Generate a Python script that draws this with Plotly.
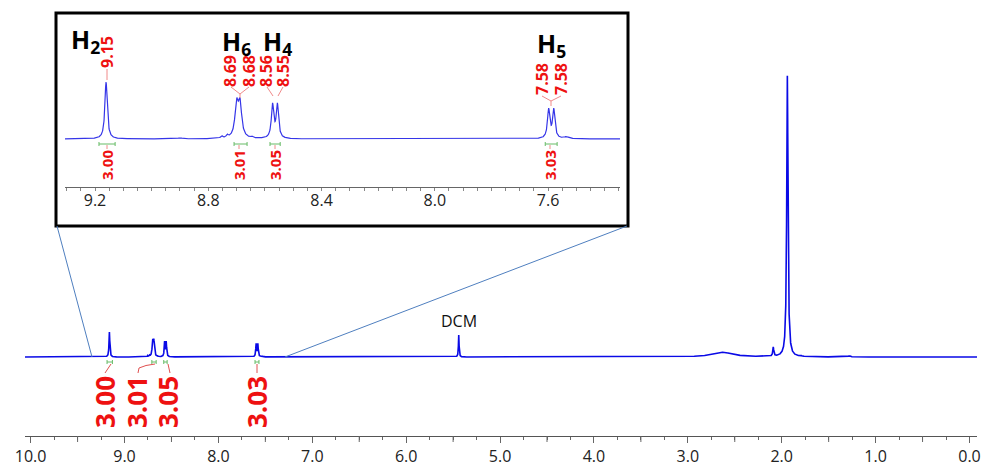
import numpy as np
import plotly.graph_objects as go

# ---------------- data ----------------
# peak list: chemical shift (ppm), height (1.94 ppm peak = 100), half width (ppm)
peak_ppm    = [9.161, 8.700, 8.688, 8.573, 8.556, 7.598, 7.580, 5.44, 2.63, 2.09, 1.94, 1.80, 1.28, 8.900, 8.753, 8.733, 8.645, 7.536, 8.10, 7.95]
peak_height = [8.9,   5.1,   5.1,   5.2,   5.2,   4.5,   4.5,   7.8,  1.7,  3.2,  100., 0.4,  0.4,  0.15,  0.4,   0.4,   0.2,   0.3,   0.1,  0.1]
peak_hwhm   = [0.005, 0.007, 0.007, 0.005, 0.005, 0.005, 0.005, 0.004, 0.13, 0.006, 0.008, 0.008, 0.01, 0.01, 0.004, 0.004, 0.004, 0.01, 0.02, 0.02]

inset_peak_labels = ["9.15", "8.69", "8.68", "8.56", "8.55", "7.58", "7.58"]
proton_labels = ["H<sub>2</sub>", "H<sub>6</sub>", "H<sub>4</sub>", "H<sub>5</sub>"]
integral_values = ["3.00", "3.01", "3.05", "3.03"]
integral_from = [9.186, 8.709, 8.582, 7.610]
integral_to   = [9.129, 8.663, 8.546, 7.568]
solvent_label = "DCM"
solvent_ppm = 5.44

main_tick_values = [10.0, 9.0, 8.0, 7.0, 6.0, 5.0, 4.0, 3.0, 2.0, 1.0, 0.0]
main_tick_labels = ["10.0", "9.0", "8.0", "7.0", "6.0", "5.0", "4.0", "3.0", "2.0", "1.0", "0.0"]
main_half_ticks = [9.5, 8.5, 7.5, 6.5, 5.5, 4.5, 3.5, 2.5, 1.5, 0.5]
inset_tick_values = [9.2, 8.8, 8.4, 8.0, 7.6]
inset_tick_labels = ["9.2", "8.8", "8.4", "8.0", "7.6"]

# ---------------- spectrum from the peak list ----------------
ppm = np.arange(10.06, -0.0801, -0.0005)
intensity = np.zeros_like(ppm)
for c, h, w in zip(peak_ppm, peak_height, peak_hwhm):
    intensity += h / (1.0 + ((ppm - c) / w) ** 2)
mask = (ppm <= 9.32) & (ppm >= 7.33)

W, H = 987, 470
def X(p):
    return p / W
def Y(p):
    return 1 - p / H

FONT = "Open Sans"
RED = "#ee1111"
PINK = "#f08a8a"
GREEN = "#66bb66"

fig = go.Figure()
fig.add_trace(go.Scatter(x=ppm, y=intensity, mode="lines",
                         line=dict(color="#0a0ae6", width=1.6),
                         xaxis="x", yaxis="y", hoverinfo="skip", showlegend=False))
fig.add_trace(go.Scatter(x=ppm[mask], y=intensity[mask], mode="lines",
                         line=dict(color="#3535e8", width=1.2),
                         xaxis="x2", yaxis="y2", hoverinfo="skip", showlegend=False))

shapes = []
annotations = []

# inset frame and zoom lines
shapes.append(dict(type="rect", xref="paper", yref="paper", x0=X(56), x1=X(628), y0=Y(226), y1=Y(13),
                   line=dict(color="black", width=3), layer="above"))
shapes.append(dict(type="line", xref="paper", yref="paper", x0=X(57), y0=Y(226), x1=X(92), y1=Y(357),
                   line=dict(color="#4f7fbf", width=1)))
shapes.append(dict(type="line", xref="paper", yref="paper", x0=X(627), y0=Y(226), x1=X(285), y1=Y(357),
                   line=dict(color="#4f7fbf", width=1)))

# longer half-unit ticks on the main axis
for v in main_half_ticks:
    shapes.append(dict(type="line", xref="x", yref="paper", x0=v, x1=v, y0=Y(436), y1=Y(442),
                       line=dict(color="#666", width=1)))

# integral brackets (main at y=362 px, inset at y=144 px)
for xr, ypx in (("x", 362), ("x2", 144)):
    for a, b in zip(integral_from, integral_to):
        shapes.append(dict(type="line", xref=xr, yref="paper", x0=a, x1=b, y0=Y(ypx), y1=Y(ypx),
                           line=dict(color=GREEN, width=1)))
        for e in (a, b):
            shapes.append(dict(type="line", xref=xr, yref="paper", x0=e, x1=e, y0=Y(ypx - 2), y1=Y(ypx + 2),
                               line=dict(color=GREEN, width=1)))

# main integral labels and connectors
main_int_px = [105, 137, 168, 257]
for txt, xp in zip(integral_values, main_int_px):
    annotations.append(dict(x=X(xp), y=Y(402), xref="paper", yref="paper", text=txt, showarrow=False,
                            textangle=-90, xanchor="center", yanchor="middle",
                            font=dict(family=FONT, size=26, color=RED, weight="bold")))
main_conn = [
    "M {} {} L {} {}".format(X(111), Y(364), X(105), Y(373)),
    "M {} {} Q {} {} {} {} L {} {}".format(X(155), Y(364), X(145), Y(365), X(139), Y(368), X(138), Y(373)),
    "M {} {} L {} {}".format(X(168), Y(364), X(170), Y(373)),
    "M {} {} L {} {}".format(X(257), Y(364), X(257), Y(373)),
]
for p in main_conn:
    shapes.append(dict(type="path", xref="paper", yref="paper", path=p, line=dict(color="#e05050", width=1)))

# inset integral labels and connectors
inset_int_px = [107, 239, 275, 550]
for txt, xp in zip(integral_values, inset_int_px):
    annotations.append(dict(x=X(xp), y=Y(165), xref="paper", yref="paper", text=txt, showarrow=False,
                            textangle=-90, xanchor="center", yanchor="middle",
                            font=dict(family=FONT, size=15, color=RED, weight="bold")))
    shapes.append(dict(type="line", xref="paper", yref="paper", x0=X(xp), x1=X(xp), y0=Y(145), y1=Y(149),
                       line=dict(color=PINK, width=1)))

# inset peak labels
peak_lab_px = [(107, 52), (230, 71), (249, 71), (266, 71), (283, 71), (542, 79), (561, 79)]
for txt, (xp, yp) in zip(inset_peak_labels, peak_lab_px):
    annotations.append(dict(x=X(xp), y=Y(yp), xref="paper", yref="paper", text=txt, showarrow=False,
                            textangle=-90, xanchor="center", yanchor="middle",
                            font=dict(family=FONT, size=16, color=RED, weight="bold")))
peak_conn = [
    [(107, 69), (107, 80)],
    [(231, 87), (240, 94), (240, 98)],
    [(249, 87), (240, 94)],
    [(267, 87), (273, 96)],
    [(283, 87), (278, 96)],
    [(542, 96), (551, 101), (551, 106)],
    [(561, 96), (551, 101)],
]
for pts in peak_conn:
    path = "M " + " L ".join("{} {}".format(X(a), Y(b)) for a, b in pts)
    shapes.append(dict(type="path", xref="paper", yref="paper", path=path, line=dict(color=PINK, width=1)))

# proton labels
proton_px = [(69, 40), (220, 42), (261, 42), (535, 45)]
for txt, (xp, yp) in zip(proton_labels, proton_px):
    annotations.append(dict(x=X(xp), y=Y(yp), xref="paper", yref="paper", text=txt, showarrow=False,
                            xanchor="left", yanchor="middle",
                            font=dict(family=FONT, size=25, color="black", weight="bold")))

# solvent label
annotations.append(dict(x=solvent_ppm, y=Y(321), xref="x", yref="paper", text=solvent_label, showarrow=False,
                        xanchor="center", yanchor="middle", font=dict(family=FONT, size=16, color="#111")))

fig.update_layout(
    width=W, height=H, margin=dict(l=0, r=0, t=0, b=0),
    paper_bgcolor="white", plot_bgcolor="white", showlegend=False,
    shapes=shapes, annotations=annotations,
    xaxis=dict(domain=[X(25), X(977)], range=[10.06, -0.08], anchor="y", automargin=False,
               showgrid=False, zeroline=False, showline=True, linecolor="#555", linewidth=1,
               tickmode="array", tickvals=main_tick_values, ticktext=main_tick_labels,
               ticks="outside", ticklen=6, tickcolor="#666", tickwidth=1,
               minor=dict(dtick=0.25, ticks="outside", ticklen=3, tickcolor="#666", showgrid=False),
               tickfont=dict(family=FONT, size=16, color="#222")),
    yaxis=dict(domain=[Y(436), 1], range=[-28.1, 127.0], visible=False, automargin=False),
    xaxis2=dict(domain=[X(65), X(620)], range=[9.306, 7.346], anchor="y2", automargin=False,
                showgrid=False, zeroline=False, showline=True, linecolor="#666", linewidth=1,
                tickmode="array", tickvals=inset_tick_values, ticktext=inset_tick_labels,
                ticks="outside", ticklen=3, tickcolor="#888", ticklabelstandoff=-4,
                minor=dict(dtick=0.05, ticks="outside", ticklen=3, tickcolor="#888", showgrid=False),
                tickfont=dict(family=FONT, size=16, color="#222")),
    yaxis2=dict(domain=[Y(187), Y(20)], range=[-7.5, 18.6], visible=False, automargin=False),
)

# remove the browser's default page margin so the figure fills the 987x470 window exactly
fig.write_html("out.html", config={"displayModeBar": False, "staticPlot": True},
               post_script="document.body.style.margin='0';")
